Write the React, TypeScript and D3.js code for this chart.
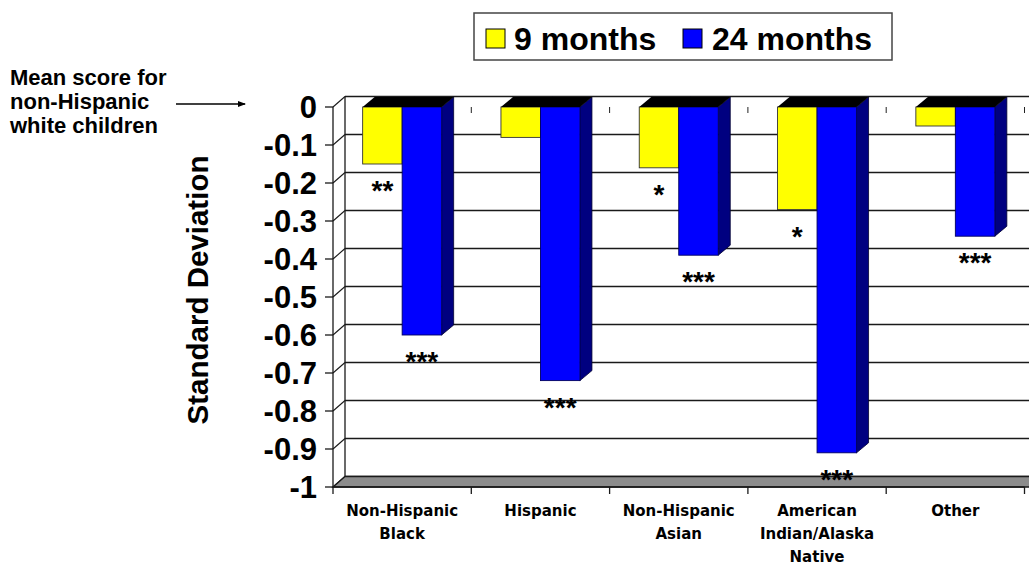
import React, { useEffect } from "react";
import * as d3 from "d3";

// Category labels (split into lines) and values in standard deviations
const categories = ["Non-Hispanic Black", "Hispanic", "Non-Hispanic Asian", "American Indian/Alaska Native", "Other"];
const categoryLines = [["Non-Hispanic", "Black"], ["Hispanic"], ["Non-Hispanic", "Asian"], ["American", "Indian/Alaska", "Native"], ["Other"]];
const seriesNames = ["9 months", "24 months"];
const months9 = [-0.15, -0.08, -0.16, -0.27, -0.05];
const months24 = [-0.6, -0.72, -0.39, -0.91, -0.34];
const stars9 = ["**", "", "*", "*", ""];
const stars24 = ["***", "***", "***", "***", "***"];
const yTicks = [0, -0.1, -0.2, -0.3, -0.4, -0.5, -0.6, -0.7, -0.8, -0.9, -1];
const yTickLabels = ["0", "-0.1", "-0.2", "-0.3", "-0.4", "-0.5", "-0.6", "-0.7", "-0.8", "-0.9", "-1"];

const FRONT_LEFT = 333;
const FRONT_RIGHT = 1024.5;
const FRONT_TOP = 107;
const FRONT_BOTTOM = 487;
// oblique depth of the walls and of the columns
const WALL_DX = 12;
const WALL_DY = -10.5;
const BAR_DX = 12;
const BAR_DY = -10;

const ARIAL = "'Liberation Sans', Arial, sans-serif";
const LABEL_FONT = "'DejaVu Sans', Verdana, sans-serif";

export default function App() {
  useEffect(() => {
    document.body.style.margin = "0";
  }, []);

  const y = d3.scaleLinear().domain([0, -1]).range([FRONT_TOP, FRONT_BOTTOM]);
  const x0 = d3.scaleBand<string>().domain(categories).range([FRONT_LEFT, FRONT_RIGHT]);
  const x1 = d3.scaleBand<string>().domain(seriesNames).range([-39.5, 39.5]);
  const colors = ["#ffff00", "#0000ff"];
  const sideColors = ["#8a8a00", "#000080"];
  const values = [months9, months24];
  const stars = [stars9, stars24];

  const rightEdge = 1040;
  const backY = (v: number) => y(v) + WALL_DY;
  const poly = (pts: number[][]) => pts.map((p) => p.join(",")).join(" ");

  return (
    <svg width={1029} height={566} style={{ position: "absolute", left: 0, top: 0, background: "#fff" }}>
      {/* back wall gridlines */}
      {yTicks.map((t, i) => (
        <line key={"g" + i} x1={FRONT_LEFT + WALL_DX} x2={rightEdge} y1={backY(t)} y2={backY(t)} stroke="#1a1a1a" strokeWidth={1.4} />
      ))}
      <line x1={FRONT_LEFT + WALL_DX} x2={FRONT_LEFT + WALL_DX} y1={backY(0)} y2={backY(-1)} stroke="#1a1a1a" strokeWidth={1.3} />
      {/* side wall: connectors from the axis ticks to the back wall */}
      {yTicks.map((t, i) => (
        <line key={"s" + i} x1={FRONT_LEFT} y1={y(t)} x2={FRONT_LEFT + WALL_DX} y2={backY(t)} stroke="#1a1a1a" strokeWidth={1.1} />
      ))}
      {/* floor */}
      <polygon
        points={poly([
          [FRONT_LEFT, y(-1)],
          [FRONT_LEFT + WALL_DX, backY(-1)],
          [rightEdge, backY(-1)],
          [rightEdge, y(-1)],
        ])}
        fill="#8c8c8c"
        stroke="#1a1a1a"
        strokeWidth={1.3}
      />
      {/* small category ticks along the zero line */}
      {categories.map((c, i) => {
        const xx = FRONT_LEFT + x0.bandwidth() * (i + 1);
        return <line key={"zt" + i} x1={xx} x2={xx} y1={y(0)} y2={y(0) + 6} stroke="#222" strokeWidth={1} />;
      })}

      {/* columns */}
      {categories.map((c, ci) => {
        const center = (x0(c) as number) + x0.bandwidth() / 2;
        const left = center + (x1(seriesNames[0]) as number);
        const right = center + (x1(seriesNames[1]) as number) + x1.bandwidth();
        return (
          <g key={"c" + ci}>
            {seriesNames.map((s, si) => {
              const bx = center + (x1(s) as number);
              const bw = x1.bandwidth();
              const top = y(0);
              const bot = y(values[si][ci]);
              return (
                <g key={s}>
                  <polygon
                    points={poly([
                      [bx + bw, top],
                      [bx + bw + BAR_DX, top + BAR_DY],
                      [bx + bw + BAR_DX, bot + BAR_DY],
                      [bx + bw, bot],
                    ])}
                    fill={sideColors[si]}
                    stroke="#000030"
                    strokeWidth={0.8}
                  />
                  <rect x={bx} y={top} width={bw} height={bot - top} fill={colors[si]} stroke={si === 0 ? "#333" : "#000060"} strokeWidth={0.9} />
                </g>
              );
            })}
            {/* top face at the zero line */}
            <polygon
              points={poly([
                [left, y(0)],
                [left + BAR_DX, y(0) + BAR_DY],
                [right + BAR_DX, y(0) + BAR_DY],
                [right, y(0)],
              ])}
              fill="#000"
            />
            {/* significance markers */}
            {seriesNames.map((s, si) => {
              const label = stars[si][ci];
              if (!label) return null;
              const bx = center + (x1(s) as number) + x1.bandwidth() / 2;
              return (
                <text key={"st" + si} x={bx} y={y(values[si][ci]) + 36} textAnchor="middle" fontFamily={ARIAL} fontWeight="bold" fontSize={28} fill="#000">
                  {label}
                </text>
              );
            })}
          </g>
        );
      })}

      {/* value axis */}
      <line x1={FRONT_LEFT} x2={FRONT_LEFT} y1={y(0)} y2={y(-1)} stroke="#1a1a1a" strokeWidth={1.3} />
      {yTicks.map((t, i) => (
        <g key={"t" + i}>
          <line x1={FRONT_LEFT - 8} x2={FRONT_LEFT} y1={y(t)} y2={y(t)} stroke="#1a1a1a" strokeWidth={1.3} />
          <text x={317} y={y(t) + 11} textAnchor="end" fontFamily={ARIAL} fontWeight="bold" fontSize={31} fill="#000">
            {yTickLabels[i]}
          </text>
        </g>
      ))}
      <text
        transform={`translate(208,290) rotate(-90)`}
        textAnchor="middle"
        fontFamily={ARIAL}
        fontWeight="bold"
        fontSize={29.5}
        fill="#000"
      >
        Standard Deviation
      </text>

      {/* category axis */}
      <line x1={FRONT_LEFT} x2={FRONT_RIGHT} y1={y(-1)} y2={y(-1)} stroke="#1a1a1a" strokeWidth={1.3} />
      {categories.map((c, i) => {
        const xx = FRONT_LEFT + x0.bandwidth() * (i + 1);
        return <line key={"bt" + i} x1={xx} x2={xx} y1={y(-1)} y2={y(-1) + 7} stroke="#1a1a1a" strokeWidth={1.3} />;
      })}
      <line x1={FRONT_LEFT} x2={FRONT_LEFT} y1={y(-1)} y2={y(-1) + 7} stroke="#1a1a1a" strokeWidth={1.3} />
      {categories.map((c, i) => {
        const cx = (x0(c) as number) + x0.bandwidth() / 2;
        return (
          <text key={"cl" + i} textAnchor="middle" fontFamily={LABEL_FONT} fontWeight="bold" fontSize={15} fill="#000">
            {categoryLines[i].map((ln, li) => (
              <tspan key={li} x={cx} y={516 + li * 23}>
                {ln}
              </tspan>
            ))}
          </text>
        );
      })}

      {/* legend */}
      <rect x={474} y={13} width={418} height={47} fill="#fff" stroke="#444" strokeWidth={1.5} />
      <rect x={486} y={29} width={19} height={19} fill={colors[0]} stroke="#000" strokeWidth={1} />
      <text x={514} y={50} fontFamily={ARIAL} fontWeight="bold" fontSize={32} fill="#000">
        {seriesNames[0]}
      </text>
      <rect x={683} y={29} width={19} height={19} fill={colors[1]} stroke="#000" strokeWidth={1} />
      <text x={712} y={50} fontFamily={ARIAL} fontWeight="bold" fontSize={32} fill="#000">
        {seriesNames[1]}
      </text>

      {/* annotation for the reference group */}
      <text fontFamily={ARIAL} fontWeight="bold" fontSize={22} fill="#000">
        <tspan x={10} y={85}>Mean score for</tspan>
        <tspan x={10} y={109}>non-Hispanic</tspan>
        <tspan x={10} y={133}>white children</tspan>
      </text>
      <defs>
        <marker id="arrowHead" markerWidth={8} markerHeight={8} refX={7} refY={4} orient="auto" markerUnits="userSpaceOnUse">
          <path d="M0,1 L8,4 L0,7 Z" fill="#000" />
        </marker>
      </defs>
      <line x1={176} x2={245} y1={104} y2={104} stroke="#000" strokeWidth={1.5} markerEnd="url(#arrowHead)" />
    </svg>
  );
}
